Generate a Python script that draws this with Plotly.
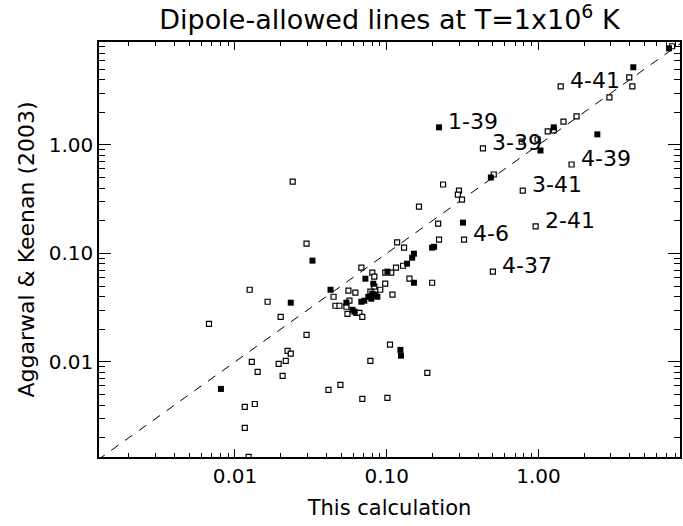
import math
import plotly.graph_objects as go

# ---- data (This calculation vs Aggarwal & Keenan 2003) ----
open_x = [1.40, 0.430, 1.65, 0.787, 0.957, 0.323, 0.500, 7.59, 3.96, 4.15, 2.93, 1.78, 1.46, 1.15, 1.26,
          0.986, 0.775, 0.507, 0.235, 0.299, 0.294, 0.313, 0.163, 0.218, 0.221, 0.117, 0.130, 0.128,
          0.115, 0.0977, 0.107, 0.141, 0.199, 0.0977, 0.0906, 0.109, 0.0680, 0.0803, 0.0828, 0.0828,
          0.0780, 0.0559, 0.0621, 0.0446, 0.0568, 0.0459, 0.0488, 0.0542, 0.0551, 0.0631, 0.0660,
          0.0690, 0.0200, 0.0296, 0.0222, 0.0233, 0.0216, 0.0194, 0.0206, 0.0125, 0.0164, 0.00674,
          0.0129, 0.0141, 0.0116, 0.0135, 0.0116, 0.0123, 0.0240, 0.0296, 0.0413, 0.0495, 0.0690,
          0.101, 0.0780, 0.105, 0.185]
open_y = [3.46, 0.927, 0.659, 0.379, 0.177, 0.134, 0.0678, 8.11, 4.19, 3.46, 2.74, 1.83, 1.64, 1.33, 1.36,
          1.12, 1.07, 0.533, 0.431, 0.379, 0.348, 0.313, 0.270, 0.188, 0.134, 0.126, 0.113, 0.0769,
          0.0738, 0.0664, 0.0664, 0.0584, 0.0536, 0.0525, 0.0462, 0.0416, 0.0738, 0.0664, 0.0609, 0.0493,
          0.0443, 0.0453, 0.0434, 0.0398, 0.0366, 0.0329, 0.0329, 0.0322, 0.0277, 0.0283, 0.0283,
          0.0260, 0.0260, 0.0177, 0.0126, 0.0119, 0.0102, 0.00959, 0.00743, 0.0462, 0.0358, 0.0224,
          0.0100, 0.00809, 0.00384, 0.00409, 0.00246, 0.00133, 0.459, 0.123, 0.00551, 0.00613, 0.00455,
          0.00465, 0.0102, 0.0144, 0.00791]

filled_x = [7.24, 4.21, 2.44, 1.03, 1.26, 0.221, 0.485, 0.318, 0.199, 0.205, 0.151, 0.147, 0.136, 0.151,
            0.101, 0.0723, 0.0815, 0.0756, 0.0803, 0.0791, 0.0841, 0.0867, 0.0680, 0.0711, 0.0542,
            0.0594, 0.0612, 0.0426, 0.0324, 0.0233, 0.00808, 0.123, 0.124]
filled_y = [7.76, 5.19, 1.25, 0.887, 1.45, 1.45, 0.500, 0.192, 0.113, 0.115, 0.0993, 0.0912, 0.0803, 0.0536,
            0.0678, 0.0584, 0.0525, 0.0398, 0.0425, 0.0382, 0.0416, 0.0398, 0.0358, 0.0366, 0.0351,
            0.0302, 0.0290, 0.0462, 0.0857, 0.0351, 0.00563, 0.0129, 0.0114]

label_text = ["4-41", "1-39", "3-39", "4-39", "3-41", "2-41", "4-6", "4-37"]
label_x = [1.40, 0.221, 0.430, 1.65, 0.787, 0.957, 0.323, 0.500]
label_y = [3.46, 1.45, 0.927, 0.659, 0.379, 0.177, 0.134, 0.0678]

diag = [0.0001, 100.0]  # one-to-one line

major_ticks = [0.01, 0.1, 1.0]
major_text = ["0.01", "0.10", "1.00"]
minor_ticks = [k * 10.0 ** e for e in range(-3, 1) for k in range(2, 10)]

FONT = "DejaVu Sans"

fig = go.Figure()
fig.add_trace(go.Scatter(x=diag, y=diag, mode="lines",
                         line=dict(color="black", width=1, dash="9px,8px"),
                         showlegend=False, hoverinfo="skip"))
fig.add_trace(go.Scatter(x=open_x, y=open_y, mode="markers",
                         marker=dict(symbol="square", size=5, color="white",
                                     line=dict(color="black", width=1.2)),
                         showlegend=False))
fig.add_trace(go.Scatter(x=filled_x, y=filled_y, mode="markers",
                         marker=dict(symbol="square", size=6, color="black",
                                     line=dict(width=0)),
                         showlegend=False))

# annotations on log axes take log10 positions
for t, lx, ly in zip(label_text, label_x, label_y):
    fig.add_annotation(x=math.log10(lx), y=math.log10(ly), xref="x", yref="y", text=t,
                       showarrow=False, xanchor="left", yanchor="middle", xshift=7, yshift=6,
                       font=dict(family=FONT, size=22, color="black"))

axis_common = dict(type="log", showgrid=False, zeroline=False, showline=True,
                   linecolor="black", linewidth=1.5, mirror="ticks", ticks="inside",
                   tickcolor="black", tickwidth=1, tickmode="array",
                   tickvals=major_ticks, ticktext=major_text,
                   tickfont=dict(family=FONT, size=20, color="black"))

fig.update_xaxes(**axis_common, range=[-2.896, 0.932], ticklen=8,
                 minor=dict(tickvals=minor_ticks, ticks="inside", ticklen=4,
                            tickcolor="black", tickwidth=1, showgrid=False),
                 title=dict(text="This calculation", font=dict(family=FONT, size=21, color="black"),
                            standoff=14))
fig.update_yaxes(**axis_common, range=[-2.877, 0.948], ticklen=12,
                 minor=dict(tickvals=minor_ticks, ticks="inside", ticklen=6,
                            tickcolor="black", tickwidth=1, showgrid=False),
                 title=dict(text="Aggarwal & Keenan (2003)", font=dict(family=FONT, size=22, color="black"),
                            standoff=8))

fig.update_layout(
    width=683, height=526,
    margin=dict(l=99, r=1, t=42, b=69),
    paper_bgcolor="white", plot_bgcolor="white",
    title=dict(text="Dipole-allowed lines at T=1x10<sup>6</sup> K",
               x=0.5, xref="paper", xanchor="center",
               y=1 - 20 / 526, yref="container", yanchor="middle",
               font=dict(family=FONT, size=27, color="black")),
)

fig.write_html("out.html")
